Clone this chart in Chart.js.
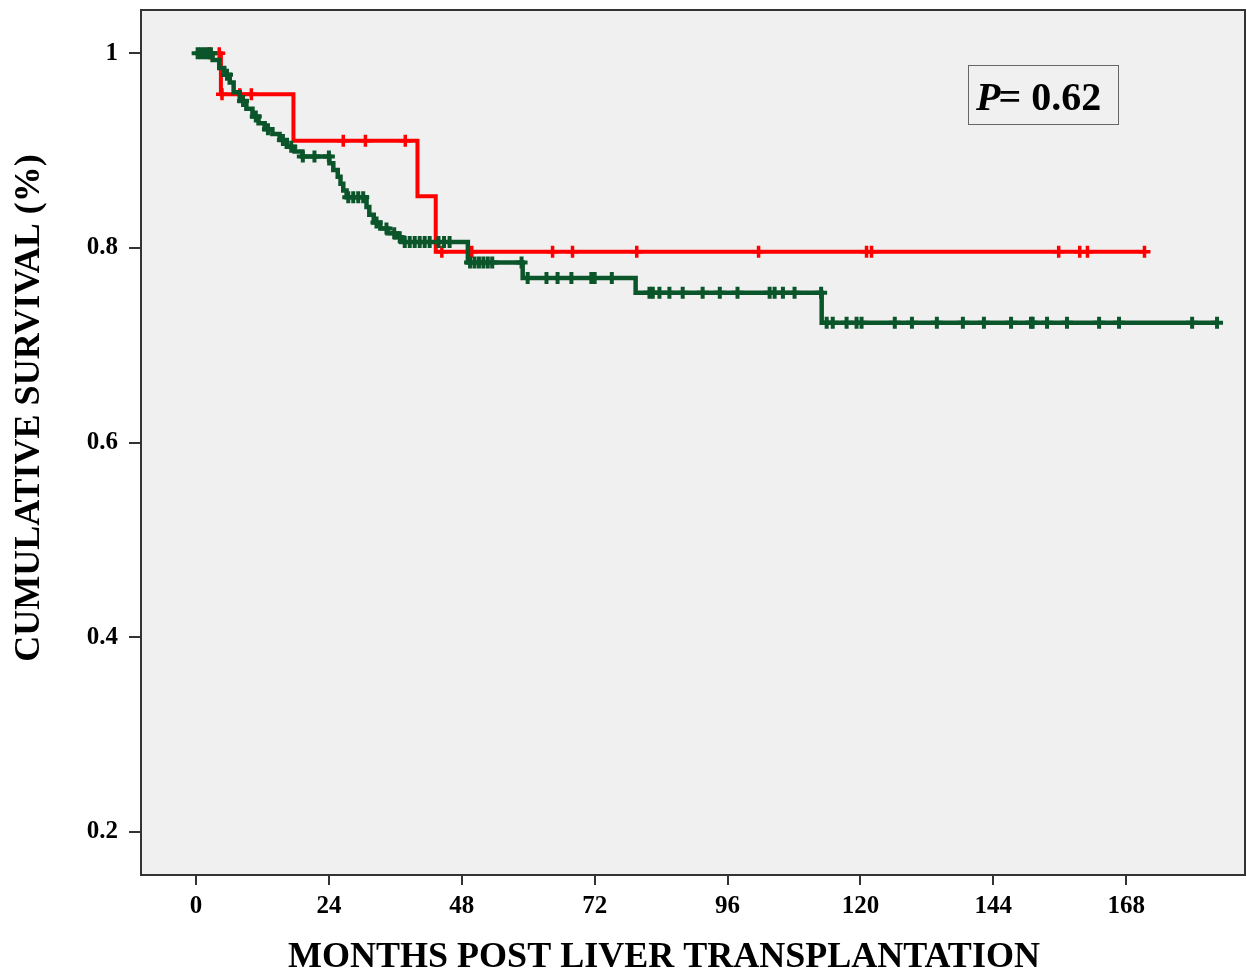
<!DOCTYPE html>
<html>
<head>
<meta charset="utf-8">
<script src="https://cdn.jsdelivr.net/npm/chart.js@4.4.1/dist/chart.umd.min.js"></script>
<style>
html,body{margin:0;padding:0;background:#ffffff;overflow:hidden;}
#wrap{width:1247px;height:971px;position:relative;}
canvas{display:block;}
</style>
</head>
<body>
<div id="wrap"><canvas id="c"></canvas></div>
<script>
// ---- data ----
const xTickValues = [0, 24, 48, 72, 96, 120, 144, 168];
const xTickLabels = ['0', '24', '48', '72', '96', '120', '144', '168'];
const yTickValues = [0.2, 0.4, 0.6, 0.8, 1];
const yTickLabels = ['0.2', '0.4', '0.6', '0.8', '1'];

const xTitle = 'MONTHS POST LIVER TRANSPLANTATION';
const yTitle = 'CUMULATIVE SURVIVAL (%)';
const pLabel = 'P';
const pValueText = '= 0.62';

// red group: step times (months) and survival after each step
const redStepTimes  = [1.9, 4.5, 17.6, 40.0, 43.3, 171.3];
const redStepValues = [1.0, 0.958, 0.910, 0.853, 0.796, 0.796];
const redCensorTimes = [2.4, 4.2, 4.7, 7.9, 10.0, 26.6, 30.6, 37.8, 44.4, 49.8, 64.4, 68.0,
  79.6, 101.6, 121.1, 122.0, 155.8, 159.6, 161.0, 171.3];

// green group
const greenStepTimes  = [0.3, 3.0, 4.2, 5.1, 6.1, 6.8, 7.9, 9.1, 10.2, 11.3, 12.4, 13.8, 15.1,
  16.4, 17.8, 19.2, 24.1, 24.8, 25.6, 26.1, 26.6, 27.2, 30.8, 31.3, 32.1, 33.3, 34.6, 36.0, 37.1,
  49.1, 59.0, 79.4, 113.0, 184.4];
const greenStepValues = [1.0, 0.993, 0.985, 0.978, 0.970, 0.960, 0.951, 0.943, 0.935, 0.928, 0.922,
  0.917, 0.911, 0.904, 0.899, 0.894, 0.887, 0.880, 0.873, 0.866, 0.859, 0.852, 0.842, 0.834, 0.826,
  0.820, 0.815, 0.811, 0.806, 0.785, 0.769, 0.754, 0.723, 0.723];
const greenCensorTimes = [0.3, 0.9, 1.5, 2.1, 2.7, 5.6, 8.5, 10.8, 13.0, 15.7, 17.2,
  19.3, 21.4, 24.0, 27.5, 28.4, 29.3, 30.2, 32.6, 34.4, 35.8, 36.8,
  37.7, 38.6, 39.5, 40.4, 41.3, 42.2, 43.8, 44.8, 45.8,
  49.5, 50.3, 51.1, 51.9, 52.7, 53.5, 58.8,
  59.9, 63.3, 65.3, 67.8, 71.4, 72.0, 75.1,
  81.9, 82.5, 83.7, 85.5, 87.9, 91.5, 94.6, 97.8, 103.6, 104.5, 106.0, 108.1, 112.9,
  113.9, 115.0, 117.5, 119.3, 120.2, 126.2, 129.3, 133.8, 138.5, 142.3, 147.2, 150.8, 151.1,
  153.7, 157.3, 163.1, 166.7, 179.9, 184.4];

// ---- helpers ----
function survivalAt(times, values, t) {
  let v = values[0];
  for (let i = 0; i < times.length; i++) { if (times[i] <= t) v = values[i]; }
  return v;
}
function toPoints(times, values) { return times.map((t, i) => ({x: t, y: values[i]})); }
function censorPoints(ct, times, values) { return ct.map(t => ({x: t, y: survivalAt(times, values, t)})); }

const RED = '#ff0000';
const GREEN = '#0b552a';
const FONT = "'Liberation Serif', 'Times New Roman', serif";

const framePlugin = {
  id: 'frame',
  beforeDraw(chart) {
    const {ctx, chartArea: a} = chart;
    ctx.save();
    ctx.fillStyle = '#f0f0f0';
    ctx.fillRect(a.left, a.top, a.right - a.left, a.bottom - a.top);
    ctx.restore();
  },
  afterDraw(chart) {
    const {ctx, chartArea: a} = chart;
    ctx.save();
    ctx.strokeStyle = '#333333';
    ctx.lineWidth = 2;
    ctx.strokeRect(a.left, a.top, a.right - a.left, a.bottom - a.top);

    // axis titles
    ctx.fillStyle = '#000';
    ctx.font = "bold 36px " + FONT;
    ctx.textAlign = 'center';
    ctx.textBaseline = 'alphabetic';
    ctx.fillText(xTitle, 664, 967);
    ctx.save();
    ctx.translate(39, 408);
    ctx.rotate(-Math.PI / 2);
    ctx.fillText(yTitle, 0, 0);
    ctx.restore();

    // P-value box
    const bx = 968, by = 65, bw = 150, bh = 59;
    ctx.fillStyle = '#f0f0f0';
    ctx.fillRect(bx, by, bw, bh);
    ctx.strokeStyle = '#666666';
    ctx.lineWidth = 1;
    ctx.strokeRect(bx + 0.5, by + 0.5, bw, bh);
    ctx.fillStyle = '#000';
    ctx.textAlign = 'left';
    ctx.font = "italic bold 40px " + FONT;
    ctx.fillText(pLabel, 976, 110);
    const pw = ctx.measureText(pLabel).width;
    ctx.font = "bold 40px " + FONT;
    ctx.fillText(pValueText, 976 + pw - 2, 110);
    ctx.restore();
  }
};

new Chart(document.getElementById('c'), {
  type: 'scatter',
  data: {
    datasets: [
      {
        label: 'green',
        data: toPoints(greenStepTimes, greenStepValues),
        showLine: true, stepped: true,
        borderColor: GREEN, borderWidth: 4.5, pointRadius: 0, fill: false
      },
      {
        label: 'green censored',
        data: censorPoints(greenCensorTimes, greenStepTimes, greenStepValues),
        showLine: false, pointStyle: 'cross', pointRadius: 6,
        borderColor: GREEN, backgroundColor: GREEN, pointBorderWidth: 4
      },
      {
        label: 'red',
        data: toPoints(redStepTimes, redStepValues),
        showLine: true, stepped: true,
        borderColor: RED, borderWidth: 4, pointRadius: 0, fill: false
      },
      {
        label: 'red censored',
        data: censorPoints(redCensorTimes, redStepTimes, redStepValues),
        showLine: false, pointStyle: 'cross', pointRadius: 6,
        borderColor: RED, backgroundColor: RED, pointBorderWidth: 3.5
      }
    ]
  },
  options: {
    responsive: true,
    maintainAspectRatio: false,
    animation: false,
    devicePixelRatio: 1,
    layout: {autoPadding: false, padding: {top: 10, right: 2, left: 0, bottom: 0}},
    plugins: {legend: {display: false}, tooltip: {enabled: false}},
    scales: {
      x: {
        type: 'linear', min: -9.93, max: 189.45,
        afterFit(s) { s.height = 96; s.paddingLeft = 0; s.paddingRight = 0; },
        afterBuildTicks(s) { s.ticks = xTickValues.map(v => ({value: v})); },
        border: {display: false},
        grid: {display: true, drawOnChartArea: false, drawTicks: true, tickLength: 10, color: '#333333', lineWidth: 2},
        ticks: {
          color: '#000', padding: 7, maxRotation: 0, autoSkip: false,
          font: {family: FONT, size: 25, weight: 'bold'},
          callback(v) { const i = xTickValues.indexOf(v); return i >= 0 ? xTickLabels[i] : ''; }
        }
      },
      y: {
        type: 'linear', min: 0.1555, max: 1.0445,
        afterFit(s) { s.width = 141; s.paddingTop = 0; s.paddingBottom = 0; },
        afterBuildTicks(s) { s.ticks = yTickValues.map(v => ({value: v})); },
        border: {display: false},
        grid: {display: true, drawOnChartArea: false, drawTicks: true, tickLength: 12, color: '#333333', lineWidth: 2},
        ticks: {
          color: '#000', padding: 11, autoSkip: false,
          font: {family: FONT, size: 25, weight: 'bold'},
          callback(v) { const i = yTickValues.indexOf(v); return i >= 0 ? yTickLabels[i] : ''; }
        }
      }
    }
  },
  plugins: [framePlugin]
});
</script>
</body>
</html>
